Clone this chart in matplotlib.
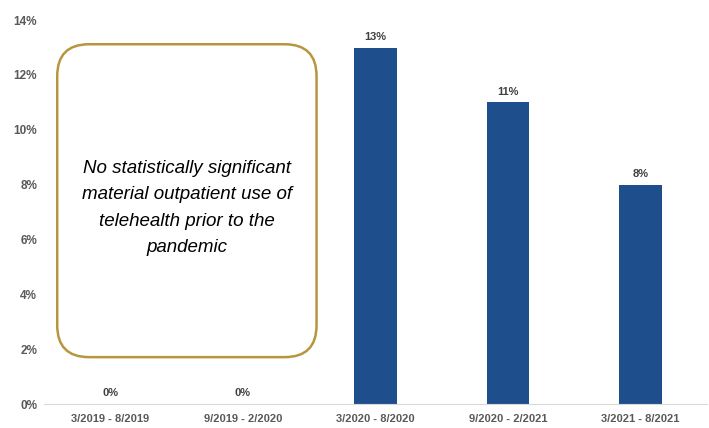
import matplotlib
matplotlib.use("Agg")
import matplotlib.pyplot as plt
from matplotlib.patches import FancyBboxPatch
from matplotlib.ticker import FuncFormatter

# chart data
periods = ["3/2019 - 8/2019", "9/2019 - 2/2020", "3/2020 - 8/2020",
           "9/2020 - 2/2021", "3/2021 - 8/2021"]
values = [0, 0, 13, 11, 8]
value_labels = ["0%", "0%", "13%", "11%", "8%"]
y_ticks = [0, 2, 4, 6, 8, 10, 12, 14]
note = ("No statistically significant\nmaterial outpatient use of\n"
        "telehealth prior to the\npandemic")

plt.rcParams["font.family"] = ["Liberation Sans", "DejaVu Sans"]

fig = plt.figure(figsize=(7.09, 4.28), dpi=100)
ax = fig.add_axes([0.062, 0.056, 0.935, 0.897])

x = list(range(len(periods)))
bars = ax.bar(x, values, width=0.32, color="#1F4E8C", zorder=2)

for xi, v, lab in zip(x, values, value_labels):
    ax.annotate(lab, (xi, v), xytext=(0, 4), textcoords="offset points",
                ha="center", va="bottom", fontsize=8, fontweight="bold",
                color="#404040")

ax.set_xlim(-0.5, len(periods) - 0.5)
ax.set_ylim(0, 14)
ax.set_yticks(y_ticks)
ax.yaxis.set_major_formatter(FuncFormatter(lambda v, p: f"{v:.0f}%"))
ax.set_xticks(x)
ax.set_xticklabels(periods)
ax.tick_params(axis="both", length=0, colors="#595959")
ax.tick_params(axis="y", labelsize=8.5, pad=5)
ax.tick_params(axis="x", labelsize=8, pad=7)
for lab in ax.get_xticklabels() + ax.get_yticklabels():
    lab.set_fontweight("bold")

for side in ["top", "right", "left"]:
    ax.spines[side].set_visible(False)
ax.spines["bottom"].set_color("#D9D9D9")

# rounded note box over the pre-pandemic periods
x_unit = 0.935 * 709 / len(periods)
y_unit = 0.897 * 428 / 14
box = FancyBboxPatch((-0.40, 1.71), 1.956, 11.41,
                     boxstyle="round,pad=0,rounding_size=0.24",
                     mutation_aspect=x_unit / y_unit,
                     facecolor="none", edgecolor="#B8963E", linewidth=1.8,
                     zorder=3)
ax.add_patch(box)
ax.text(0.578, 7.15, note, ha="center", va="center", fontsize=13.5,
        fontstyle="italic", color="black", linespacing=1.7, zorder=4)

fig.savefig("out.png", dpi=100)
